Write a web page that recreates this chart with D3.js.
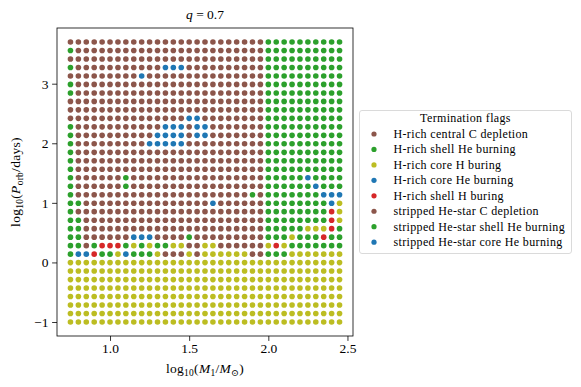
<!DOCTYPE html>
<html>
<head>
<meta charset="utf-8">
<script src="https://cdn.jsdelivr.net/npm/d3@7"></script>
<style>
  body { margin: 0; background: #fff; }
  text { font-family: "Liberation Serif", "DejaVu Serif", serif; }
</style>
</head>
<body>
<script>
// Grid values:
const logM1 = [0.75, 0.80, 0.85, 0.90, 0.95, 1.00, 1.05, 1.10, 1.15, 1.20, 1.25, 1.30,
  1.35, 1.40, 1.45, 1.50, 1.55, 1.60, 1.65, 1.70, 1.75, 1.80, 1.85, 1.90, 1.95, 2.00,
  2.05, 2.10, 2.15, 2.20, 2.25, 2.30, 2.35, 2.40, 2.45];
const logPorb = [-1.000, -0.858, -0.715, -0.573, -0.430, -0.288, -0.145, -0.003,
  0.139, 0.282, 0.424, 0.567, 0.709, 0.852, 0.994, 1.136, 1.279, 1.421, 1.564, 1.706,
  1.848, 1.991, 2.133, 2.276, 2.418, 2.561, 2.703, 2.845, 2.988, 3.130, 3.273, 3.415,
  3.558, 3.700];

const flags = [
  "H-rich central C depletion",
  "H-rich shell He burning",
  "H-rich core H buring",
  "H-rich core He burning",
  "H-rich shell H buring",
  "stripped He-star C depletion",
  "stripped He-star shell He burning",
  "stripped He-star core He burning"
];
const palette = ["#8c564b", "#2ca02c", "#bcbd22", "#1f77b4", "#d62728", "#8c564b", "#2ca02c", "#1f77b4"];

// one letter per cell, top row (highest P) first, columns follow logM1
// B = central C depletion, G = shell He burning, Y = core H, U = core He, R = shell H
const codeFlag = { B: 0, G: 1, Y: 2, U: 3, R: 4 };
const flagRows = [
  "BBBBBBBBBBBBBBBBBBBBBBBBBGGGGGGGGGG",
  "GBBBBBBBBBBBBBBBBBBBBBBBBGGGGGGGGGG",
  "BBBBBBBBBBBBBBBBBBBBBBBBBGGGGGGGGGG",
  "GBBBBBBBBBBBUUUBBBBBBBBBBGGGGGGGGGG",
  "BBBBBBBBBUBBBBBBBBBBBBBBBGGGGGGGGGG",
  "GBBBBBBBBBBBBBBBBBBBBBBBBGGGGGGGGGG",
  "GBBBBBBBBBBBBBBBBBBBBBBBBGGGGGGGGGG",
  "BBBBBBBBBBBBBBBBBBBBBBBBBGGGGGGGGGG",
  "BBBBBBBBBBBBBBBBBBBBBBBBBGGGGGGGGGG",
  "BBBBBBBBBBBBBBBUUBBBBBBBBGGGGGGGGGG",
  "GBBBBBBBBBBBUUUBUUBBBBBBBGGGGGGGGGG",
  "GBBBBBBBBBBUUUUBUUBBBBBBBGGGGGGGGGG",
  "GBBBBBBBBBUUUUUBBBBBBBBBBGGGGGGGGGG",
  "GBBBBBBBBBBBBBBBBBBBBBBBBGGGGGGGGGG",
  "GBBBBBBBBBBBBBBBBBBBBBBBBGGGGGGGGGG",
  "GBBBBBBBBBBBBBBBBBBBBBBBBGGGGGGGGGG",
  "GBBBBBBGBBBBBBBBBBBBBBBBBGGGGGUGGGG",
  "GBBBBBBGBBBBBBBBBBBBBBBBBGGGGGGUGGG",
  "GBBBBBBBBBBBBBBBBBBBBBBGBGGGGGGGUUU",
  "GGBBBBBBBBBBBBBBBBUBBBBBBGGGGGGGGUY",
  "GBBBBBBBBBBBBBBBBBBBBBBBBGGGGGGGGRY",
  "GGBBBBBBBBBBBBBBBBBBBBBBBGGGGGGGGRY",
  "GGBBBBBBBBBBBBBBBBBBBBBBBGGGGGYYYRG",
  "GGBBBBBBUUUBBBBGBBBBBBBBBGGGYGGGRGG",
  "GGBGRRRGYGYGGYYBBYYBBBBBBYRYGGGGGGG",
  "GUURGGYUGGGYBBBYBYYYYYYBBGGGYYYYYYY",
  "YYYYYYYYYYYYYYYYYYYYYYYYYYYYYYYYYYY",
  "YYYYYYYYYYYYYYYYYYYYYYYYYYYYYYYYYYY",
  "YYYYYYYYYYYYYYYYYYYYYYYYYYYYYYYYYYY",
  "YYYYYYYYYYYYYYYYYYYYYYYYYYYYYYYYYYY",
  "YYYYYYYYYYYYYYYYYYYYYYYYYYYYYYYYYYY",
  "YYYYYYYYYYYYYYYYYYYYYYYYYYYYYYYYYYY",
  "YYYYYYYYYYYYYYYYYYYYYYYYYYYYYYYYYYY",
  "YYYYYYYYYYYYYYYYYYYYYYYYYYYYYYYYYYY"
];

const xTicks = [1.0, 1.5, 2.0, 2.5];
const yTicks = [-1, 0, 1, 2, 3];

// Build point table:
const points = [];
flagRows.forEach((row, r) => {
  const y = logPorb[logPorb.length - 1 - r];
  row.split("").forEach((c, i) => {
    points.push({ x: logM1[i], y: y, flag: flags[codeFlag[c]] });
  });
});

// Canvas:
const width = 581;
const height = 387;
const plotLeft = 57;
const plotRight = 353;
const plotTop = 28;
const plotBottom = 336;

const svg = d3.select("body").append("svg").attr("width", width).attr("height", height);

const xScale = d3.scaleLinear().domain([0.665, 2.535]).range([plotLeft, plotRight]);
const yScale = d3.scaleLinear().domain([-1.235, 3.935]).range([plotBottom, plotTop]);
const color = d3.scaleOrdinal().domain(flags).range(palette);

// Dots:
svg.append("g")
  .selectAll("circle")
  .data(points)
  .enter()
  .append("circle")
  .attr("cx", (d) => xScale(d.x))
  .attr("cy", (d) => yScale(d.y))
  .attr("r", 2.8)
  .style("fill", (d) => color(d.flag));

// Axes:
const xAxis = d3.axisBottom(xScale).tickValues(xTicks).tickFormat(d3.format(".1f"))
  .tickSize(4.9).tickPadding(3);
const yAxis = d3.axisLeft(yScale).tickValues(yTicks).tickFormat(d3.format("d"))
  .tickSize(4.9).tickPadding(3.5);

const gx = svg.append("g").attr("transform", `translate(0, ${plotBottom})`).call(xAxis);
const gy = svg.append("g").attr("transform", `translate(${plotLeft}, 0)`).call(yAxis);
[gx, gy].forEach((g) => {
  g.select(".domain").remove();
  g.selectAll("line").attr("stroke", "#000").attr("stroke-width", 0.8);
  g.selectAll("text").attr("fill", "#000").style("font-size", "13.5px")
    .style("font-family", "'Liberation Serif', serif");
});

svg.append("rect")
  .attr("x", plotLeft).attr("y", plotTop)
  .attr("width", plotRight - plotLeft).attr("height", plotBottom - plotTop)
  .attr("fill", "none").attr("stroke", "#000").attr("stroke-width", 0.8);

// Math-like labels:
function mathText(sel, parts, size) {
  parts.forEach((p) => {
    const t = sel.append("tspan").text(p.t);
    if (p.it) t.style("font-style", "italic");
    if (p.sub) t.attr("dy", size * 0.25).style("font-size", size * 0.7 + "px");
    if (p.back) t.attr("dy", -size * 0.25);
  });
}

const title = svg.append("text")
  .attr("x", (plotLeft + plotRight) / 2).attr("y", 19)
  .attr("text-anchor", "middle").style("font-size", "13.5px");
mathText(title, [{ t: "q", it: true }, { t: " = 0.7" }], 13.5);

const xLabel = svg.append("text")
  .attr("x", (plotLeft + plotRight) / 2).attr("y", 373)
  .attr("text-anchor", "middle").style("font-size", "13.5px").style("letter-spacing", "0.3px");
mathText(xLabel, [
  { t: "log" }, { t: "10", sub: true }, { t: "(", back: true }, { t: "M", it: true },
  { t: "1", sub: true }, { t: "/", back: true }, { t: "M", it: true }, { t: "⊙", sub: true },
  { t: ")", back: true }
], 13.5);

const yLabel = svg.append("text")
  .attr("transform", `translate(20, ${(plotTop + plotBottom) / 2}) rotate(-90)`)
  .attr("text-anchor", "middle").style("font-size", "13.5px").style("letter-spacing", "0.3px");
mathText(yLabel, [
  { t: "log" }, { t: "10", sub: true }, { t: "(", back: true }, { t: "P", it: true },
  { t: "orb", sub: true }, { t: "/days)", back: true }
], 13.5);

// Legend:
const legend = svg.append("g").attr("id", "legend");
legend.append("rect")
  .attr("x", 359.5).attr("y", 110.5).attr("width", 212).attr("height", 143)
  .attr("rx", 2.5).attr("fill", "#fff").attr("stroke", "#d6d6d6").attr("stroke-width", 0.9);
legend.append("text")
  .attr("x", 465.5).attr("y", 121.5).attr("text-anchor", "middle")
  .style("font-size", "12px").style("letter-spacing", "0.35px").text("Termination flags");
const rows = legend.selectAll(".entry").data(flags).enter().append("g")
  .attr("class", "entry")
  .attr("transform", (d, i) => `translate(0, ${134 + i * 15.45})`);
rows.append("circle").attr("cx", 374).attr("cy", 0).attr("r", 2.6).style("fill", (d) => color(d));
rows.append("text").attr("x", 393.5).attr("y", 3.9)
  .style("font-size", "12px").style("letter-spacing", "0.35px").text((d) => d);
</script>
</body>
</html>
